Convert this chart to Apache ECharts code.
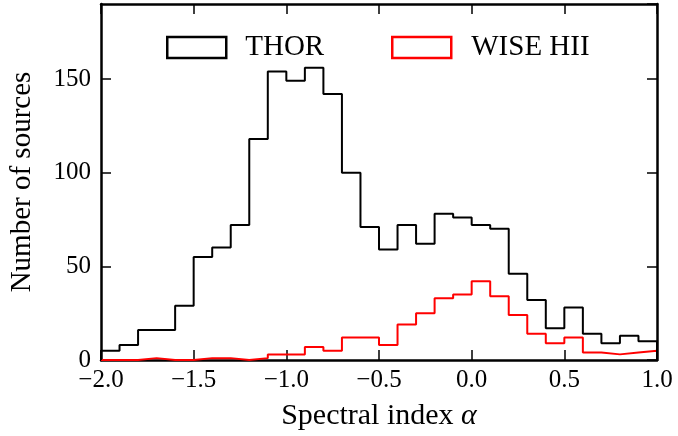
<!DOCTYPE html>
<html>
<head>
<meta charset="utf-8">
<script src="https://cdn.jsdelivr.net/npm/echarts@6/dist/echarts.min.js"></script>
<style>html,body{margin:0;padding:0;background:#fff;}#c{width:678px;height:436px;}</style>
</head>
<body>
<div id="c"></div>
<script>
// Bin edges of the histogram (spectral index alpha)
const binEdges = [-2.0,-1.9,-1.8,-1.7,-1.6,-1.5,-1.4,-1.3,-1.2,-1.1,-1.0,-0.9,-0.8,-0.7,-0.6,-0.5,-0.4,-0.3,-0.2,-0.1,0.0,0.1,0.2,0.3,0.4,0.5,0.6,0.7,0.8,0.9,1.0];
// Counts per bin
const thorCounts = [5,8,16,16,29,55,60,72,118,154,149,156,142,100,71,59,72,62,78,76,72,70,46,32,17,28,14,9,13,10];
const wiseCounts = [0,0,1,0,0,1,1,0,1,3,3,7,5,12,12,8,19,25,33,35,42,34,24,14,9,12,4,3,4,5];
const seriesNames = ['THOR', 'WISE HII'];
const xTicks = [-2.0, -1.5, -1.0, -0.5, 0.0, 0.5, 1.0];
const yTicks = [0, 50, 100, 150];

function stepData(counts) {
  const d = [[binEdges[0], 0]];
  for (let i = 0; i < counts.length; i++) d.push([binEdges[i], counts[i]]);
  d.push([binEdges[binEdges.length - 1], counts[counts.length - 1]]);
  d.push([binEdges[binEdges.length - 1], 0]);
  return d;
}

const FONT = '"Liberation Serif", "DejaVu Serif", serif';
const chart = echarts.init(document.getElementById('c'), null, {renderer: 'canvas'});
const fmtX = v => {
  const s = Math.abs(v).toFixed(1);
  return (v < -1e-9 ? '\u2212' : '') + s;
};
const tickStyle = {show: true, inside: true, length: 10, lineStyle: {color: '#000', width: 1.5}};
const lineStyleAxis = {show: true, onZero: false, lineStyle: {color: '#000', width: 2.5}};

chart.setOption({
  animation: false,
  backgroundColor: '#fff',
  grid: {left: 99, right: 21, top: 4, bottom: 76, containLabel: false},
  legend: [
    {data: [{name: seriesNames[0], itemStyle: {color: 'transparent', borderColor: '#000', borderWidth: 2.5}}],
     icon: 'rect', left: 161, top: 28, itemWidth: 59, itemHeight: 21,
     textStyle: {fontFamily: FONT, fontSize: 29, color: '#000', padding: [0, 0, 0, 14]}},
    {data: [{name: seriesNames[1], itemStyle: {color: 'transparent', borderColor: '#ff0000', borderWidth: 2.5}}],
     icon: 'rect', left: 386, top: 28, itemWidth: 59, itemHeight: 21,
     textStyle: {fontFamily: FONT, fontSize: 29, color: '#000', padding: [0, 0, 0, 15]}}
  ],
  xAxis: [
    {type: 'value', position: 'bottom', min: -2, max: 1, interval: 0.5,
     name: '{n|Spectral index }{a|\u03b1}', nameLocation: 'middle', nameGap: 41,
     nameTextStyle: {fontFamily: FONT, fontSize: 30, color: '#000',
       rich: {n: {fontFamily: FONT, fontSize: 30, color: '#000'},
              a: {fontFamily: FONT, fontSize: 30, fontStyle: 'italic', color: '#000'}}},
     axisLine: lineStyleAxis, axisTick: tickStyle, splitLine: {show: false},
     axisLabel: {formatter: fmtX, margin: 8, fontFamily: FONT, fontSize: 25, color: '#000'}},
    {type: 'value', position: 'top', min: -2, max: 1, interval: 0.5,
     axisLine: lineStyleAxis, axisTick: tickStyle, splitLine: {show: false}, axisLabel: {show: false}}
  ],
  yAxis: [
    {type: 'value', position: 'left', min: 0, max: 190, interval: 50,
     name: 'Number of sources', nameLocation: 'middle', nameGap: 64,
     nameTextStyle: {fontFamily: FONT, fontSize: 29, color: '#000'},
     axisLine: lineStyleAxis, axisTick: tickStyle, splitLine: {show: false},
     axisLabel: {showMaxLabel: false, margin: 10, fontFamily: FONT, fontSize: 25, color: '#000',
       formatter: v => (yTicks.indexOf(v) >= 0 ? String(v) : '')}},
    {type: 'value', position: 'right', min: 0, max: 190, interval: 50,
     axisLine: lineStyleAxis, axisTick: tickStyle, splitLine: {show: false}, axisLabel: {show: false}}
  ],
  series: [
    {name: seriesNames[0], type: 'line', step: 'end', data: stepData(thorCounts),
     showSymbol: false, symbol: 'none', lineStyle: {color: '#000', width: 2}, itemStyle: {color: '#000'}, z: 3},
    {name: seriesNames[1], type: 'line', step: 'end', data: stepData(wiseCounts),
     showSymbol: false, symbol: 'none', lineStyle: {color: '#ff0000', width: 2}, itemStyle: {color: '#ff0000'}, z: 2}
  ]
});
</script>
</body>
</html>
